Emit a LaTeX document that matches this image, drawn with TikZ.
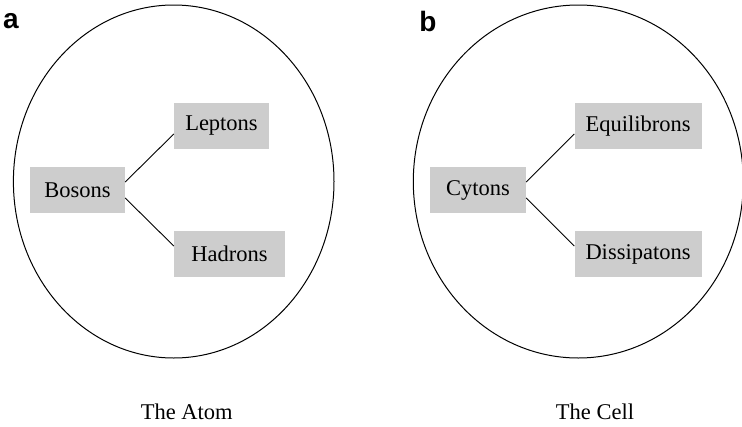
\documentclass[tikz,border=0pt]{standalone}
\usepackage{fontspec}
\setmainfont{Liberation Serif}
\newfontfamily\labelfont{Liberation Sans}
\begin{document}
\begin{tikzpicture}[x=1pt,y=-1pt,
  term/.style={fill=boxgray,inner sep=0pt,font=\fontsize{22.5}{26}\selectfont},
  link/.style={line width=0.9pt},
  rim/.style={line width=1pt},
  caption/.style={font=\fontsize{22.5}{26}\selectfont},
  panel/.style={font=\labelfont\bfseries\fontsize{28}{32}\selectfont}]
\definecolor{boxgray}{HTML}{CDCDCD}
\useasboundingbox (0,0) rectangle (742,426);

% ---- panel a: the atom ----
\draw[rim] (173.7,181.5) ellipse [x radius=160.3, y radius=176.5];
\node[panel] (la) at (11,21) {a};
\node[term, minimum width=95pt, minimum height=46pt] (bosons) at (77.5,190) {Bosons};
\node[term, minimum width=95pt, minimum height=46pt] (leptons) at (221.5,126) {Leptons};
\node[term, minimum width=111pt, minimum height=46pt] (hadrons) at (229.5,254) {Hadrons};
\draw[link] ([yshift=8pt]bosons.east) -- ([yshift=-8pt]leptons.west);
\draw[link] ([yshift=-8pt]bosons.east) -- ([yshift=8pt]hadrons.west);
\node[caption] (atom) at (186.7,412) {The Atom};

% ---- panel b: the cell ----
\draw[rim] (578.3,181.5) ellipse [x radius=165, y radius=176.5];
\node[panel] (lb) at (428,21) {b};
\node[term, minimum width=96pt, minimum height=46pt] (cytons) at (478,190) {Cytons};
\node[term, minimum width=127pt, minimum height=46pt] (equil) at (638,126) {Equilibrons};
\node[term, minimum width=127pt, minimum height=46pt] (dissip) at (638,254) {Dissipatons};
\draw[link] ([yshift=8pt]cytons.east) -- ([yshift=-8pt]equil.west);
\draw[link] ([yshift=-8pt]cytons.east) -- ([yshift=8pt]dissip.west);
\node[caption] (cell) at (595,412) {The Cell};
\end{tikzpicture}
\end{document}
